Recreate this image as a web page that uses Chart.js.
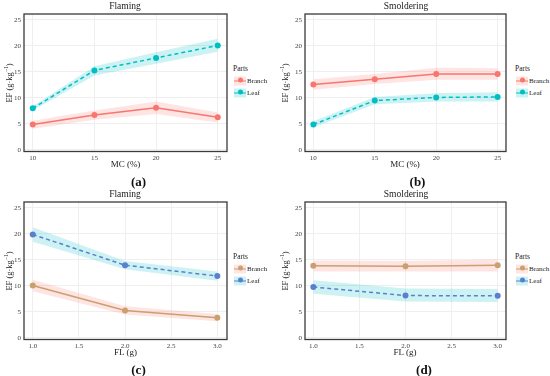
<!DOCTYPE html>
<html><head><meta charset="utf-8">
<script src="https://cdn.jsdelivr.net/npm/chart.js@4.4.0/dist/chart.umd.min.js"></script>
<style>
body{margin:0;background:#fff;width:550px;height:376px;position:relative;overflow:hidden;font-family:"Liberation Serif","DejaVu Serif",serif;color:#222}
canvas{position:absolute}
.t{position:absolute;white-space:nowrap;transform:translate(-50%,-50%);line-height:1}
.ttl{font-size:9.5px;color:#222}
.ax{font-size:9px;color:#222}
.cap{font-size:13px;font-weight:bold;color:#111}
.yt{transform:translate(-50%,-50%) rotate(-90deg);font-size:8.5px}
.yt sup{font-size:5.5px;vertical-align:4px}
.lgt{position:absolute;font-size:7px;line-height:1;transform:translateY(-50%);white-space:nowrap;color:#222}
.lgh{font-size:7.5px}
.key{position:absolute;width:12px;height:9px;transform:translateY(-50%)}
.key .ln{position:absolute;left:0;right:0;top:4px;height:1.5px}
.key .dt{position:absolute;left:3.5px;top:1.5px;width:5px;height:5px;border-radius:50%}
</style>
</head><body>
<canvas id="ca" width="233" height="164" style="left:0;top:0"></canvas>
<canvas id="cb" width="231" height="164" style="left:281px;top:0"></canvas>
<canvas id="cc" width="233" height="164" style="left:0;top:188px"></canvas>
<canvas id="cd" width="231" height="164" style="left:281px;top:188px"></canvas>

<div class="t ttl" style="left:125px;top:7px">Flaming</div>
<div class="t ttl" style="left:406px;top:7px">Smoldering</div>
<div class="t ttl" style="left:125px;top:195px">Flaming</div>
<div class="t ttl" style="left:406px;top:195px">Smoldering</div>

<div class="t ax" style="left:125.5px;top:163.5px">MC (%)</div>
<div class="t ax" style="left:405px;top:163.5px">MC (%)</div>
<div class="t ax" style="left:125.5px;top:351.5px">FL (g)</div>
<div class="t ax" style="left:405px;top:351.5px">FL (g)</div>

<div class="t yt" style="left:9px;top:83px">EF (g·kg<sup>−1</sup>)</div>
<div class="t yt" style="left:285px;top:83px">EF (g·kg<sup>−1</sup>)</div>
<div class="t yt" style="left:9px;top:271px">EF (g·kg<sup>−1</sup>)</div>
<div class="t yt" style="left:285px;top:271px">EF (g·kg<sup>−1</sup>)</div>

<div class="t cap" style="left:138.5px;top:181px">(a)</div>
<div class="t cap" style="left:417.5px;top:181px">(b)</div>
<div class="t cap" style="left:138.5px;top:369px">(c)</div>
<div class="t cap" style="left:424px;top:369px">(d)</div>

<script>
// ---- data ----
const mcValues = [10, 15, 20, 25];
const flValues = [1.0, 2.0, 3.0];
const mcTicks = [10, 15, 20, 25];
const flTicks = [1.0, 1.5, 2.0, 2.5, 3.0];
const yTicks = [0, 5, 10, 15, 20, 25];
const partNames = ["Branch", "Leaf"];

// (a) Flaming vs MC
const aBranch   = [4.9, 6.7, 8.1, 6.3];
const aBranchLo = [4.1, 5.8, 6.9, 5.3];
const aBranchHi = [5.6, 7.6, 9.3, 7.2];
const aLeaf     = [8.0, 15.3, 17.7, 20.1];
const aLeafLo   = [7.6, 14.3, 16.6, 18.9];
const aLeafHi   = [8.4, 16.1, 18.8, 21.4];
// (b) Smoldering vs MC
const bBranch   = [12.6, 13.6, 14.6, 14.6];
const bBranchLo = [11.6, 12.7, 13.5, 13.5];
const bBranchHi = [13.6, 14.6, 15.8, 15.7];
const bLeaf     = [4.9, 9.5, 10.1, 10.2];
const bLeafLo   = [4.3, 8.8, 9.3, 9.3];
const bLeafHi   = [5.5, 10.2, 10.9, 11.1];
// (c) Flaming vs FL
const cBranch   = [10.1, 5.3, 3.9];
const cBranchLo = [9.0, 4.5, 3.2];
const cBranchHi = [11.2, 6.1, 4.6];
const cLeaf     = [19.9, 14.0, 11.9];
const cLeafLo   = [18.5, 13.2, 11.0];
const cLeafHi   = [21.3, 14.8, 12.8];
// (d) Smoldering vs FL
const dBranch   = [13.9, 13.8, 14.0];
const dBranchLo = [12.8, 12.8, 12.8];
const dBranchHi = [14.9, 14.8, 15.1];
const dLeaf     = [9.8, 8.15, 8.1];
const dLeafLo   = [8.5, 7.0, 6.9];
const dLeafHi   = [11.1, 9.5, 9.4];

// ---- styles ----
const red = '#F8766D', cyan = '#00BFC4', tan = '#C9A06E', blue = '#5B7FCF';
const redBand = 'rgba(248,118,109,0.2)', cyanBand = 'rgba(0,191,196,0.2)';

const frame = {
  id: 'frame',
  afterDatasetsDraw(chart) {
    const a = chart.chartArea, c = chart.ctx;
    c.save(); c.strokeStyle = '#3a3a3a'; c.lineWidth = 1.3;
    c.strokeRect(a.left, a.top, a.right - a.left, a.bottom - a.top);
    c.restore();
  }
};

function pts(xs, ys) { return xs.map((x, i) => ({x, y: ys[i]})); }

function panel(id, xs, xTicks, xMin, xMax, series, fmt) {
  const ds = [];
  series.forEach(s => {
    ds.push({data: pts(xs, s.lo), borderWidth: 0, pointRadius: 0, fill: false, order: 2, borderColor: 'transparent'});
    ds.push({data: pts(xs, s.hi), borderWidth: 0, pointRadius: 0, fill: '-1', backgroundColor: s.band, order: 2, borderColor: 'transparent'});
  });
  series.forEach(s => {
    ds.push({label: s.name, data: pts(xs, s.y), borderColor: s.color, borderWidth: 1.5,
      borderDash: s.dash ? [4, 3] : [], pointRadius: 3, pointBorderWidth: 0,
      pointBackgroundColor: s.color, fill: false, order: 0, tension: 0});
  });
  const tickFont = {family: '"Liberation Serif", serif', size: 7};
  new Chart(document.getElementById(id), {
    type: 'line',
    data: {datasets: ds},
    options: {
      responsive: false, animation: false,
      layout: {padding: {top: 14, right: 6, left: 0, bottom: 0}},
      plugins: {legend: {display: false}, tooltip: {enabled: false}},
      scales: {
        x: {type: 'linear', min: xMin, max: xMax,
          afterBuildTicks: sc => { sc.ticks = xTicks.map(v => ({value: v})); },
          afterFit: sc => { sc.height = 12.5; },
          ticks: {font: tickFont, color: '#444', padding: 2, maxRotation: 0,
            callback: v => fmt ? Number(v).toFixed(1) : String(v)},
          grid: {color: '#efefef', drawTicks: false}, border: {display: false}},
        y: {min: -0.3, max: 26.15,
          afterBuildTicks: sc => { sc.ticks = yTicks.map(v => ({value: v})); },
          afterFit: sc => { sc.width = 24; },
          ticks: {font: tickFont, color: '#444', padding: 3},
          grid: {color: '#efefef', drawTicks: false}, border: {display: false}}
      }
    },
    plugins: [frame]
  });
}

panel('ca', mcValues, mcTicks, 9.29, 25.75, [
  {name: partNames[0], y: aBranch, lo: aBranchLo, hi: aBranchHi, color: red, band: redBand, dash: false},
  {name: partNames[1], y: aLeaf, lo: aLeafLo, hi: aLeafHi, color: cyan, band: cyanBand, dash: true}], false);
panel('cb', mcValues, mcTicks, 9.32, 25.68, [
  {name: partNames[0], y: bBranch, lo: bBranchLo, hi: bBranchHi, color: red, band: redBand, dash: false},
  {name: partNames[1], y: bLeaf, lo: bLeafLo, hi: bLeafHi, color: cyan, band: cyanBand, dash: true}], false);
panel('cc', flValues, flTicks, 0.905, 3.105, [
  {name: partNames[0], y: cBranch, lo: cBranchLo, hi: cBranchHi, color: tan, band: redBand, dash: false},
  {name: partNames[1], y: cLeaf, lo: cLeafLo, hi: cLeafHi, color: blue, band: cyanBand, dash: true}], true);
panel('cd', flValues, flTicks, 0.91, 3.09, [
  {name: partNames[0], y: dBranch, lo: dBranchLo, hi: dBranchHi, color: tan, band: redBand, dash: false},
  {name: partNames[1], y: dLeaf, lo: dLeafLo, hi: dLeafHi, color: blue, band: cyanBand, dash: true}], true);

// ---- legends ----
function legend(left, top, colors, bands) {
  const add = (html) => { const d = document.createElement('div'); d.innerHTML = html; document.body.appendChild(d.firstChild); };
  add(`<div class="lgt lgh" style="left:${left}px;top:${top}px">Parts</div>`);
  partNames.forEach((n, i) => {
    const y = top + 11.5 + i * 12;
    add(`<div class="key" style="left:${left + 1}px;top:${y}px;background:${bands[i]}"><div class="ln" style="background:${colors[i]}"></div><div class="dt" style="background:${colors[i]}"></div></div>`);
    add(`<div class="lgt" style="left:${left + 14}px;top:${y + 0.5}px">${n}</div>`);
  });
}
legend(233, 69, [red, cyan], [redBand, cyanBand]);
legend(515, 69, [red, cyan], [redBand, cyanBand]);
legend(233, 257, [tan, blue], [redBand, cyanBand]);
legend(515, 257, [tan, blue], [redBand, cyanBand]);
</script>
</body></html>
